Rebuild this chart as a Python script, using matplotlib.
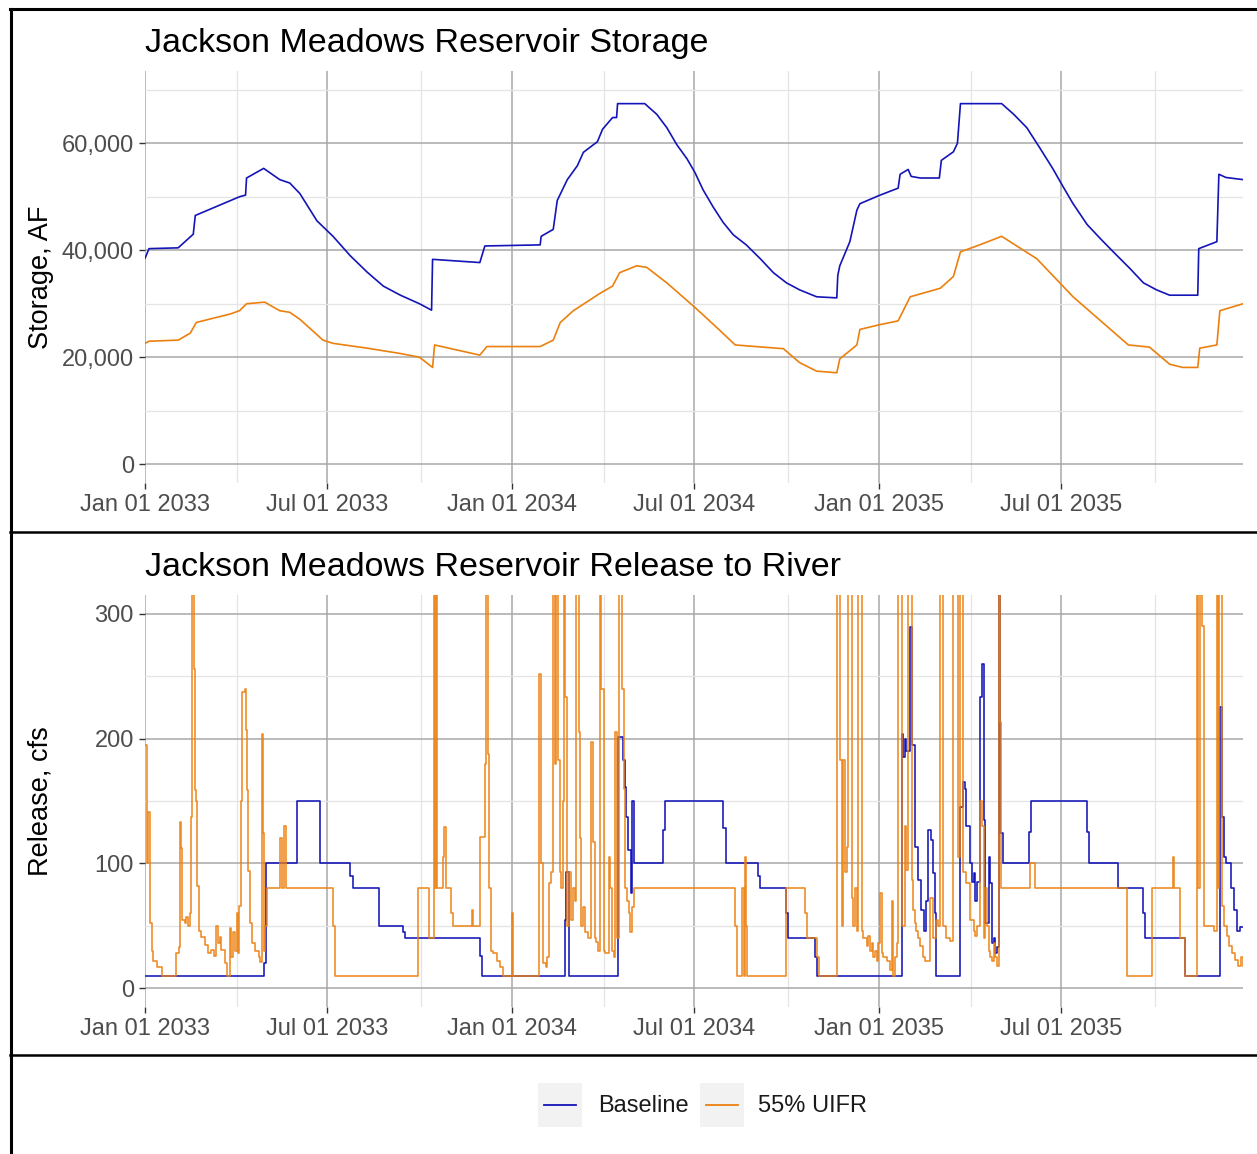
import numpy as np
import pandas as pd
import matplotlib
matplotlib.use("Agg")
import matplotlib.pyplot as plt
import matplotlib.dates as mdates
from matplotlib.ticker import FuncFormatter, MultipleLocator
from matplotlib.patches import Rectangle

plt.rcParams["font.family"] = ["Liberation Sans", "DejaVu Sans"]

# ---- data (day offsets from 2033-01-01) ----
start = pd.Timestamp("2033-01-01")
series_names = ["Baseline", "55% UIFR"]
series_colors = ["#1414B8", "#EC800F"]

stor_base_day = [0, 4, 33, 48, 50, 94, 100, 101, 118, 134, 144, 154, 171, 187, 204, 221, 237,
                 254, 273, 285, 286, 333, 338, 393, 394, 406, 410, 420, 430, 436, 450, 455,
                 465, 469, 470, 497, 509, 519, 529, 539, 547, 555, 565, 575, 585, 598, 612,
                 625, 638, 651, 668, 688, 689, 691, 701, 708, 711, 731, 749, 751, 759, 762,
                 771, 790, 792, 804, 808, 811, 852, 864, 877, 890, 903, 913, 923, 937, 950,
                 963, 980, 993, 1006, 1019, 1047, 1048, 1066, 1068, 1075, 1092]
stor_base_af = [38500, 40300, 40450, 43000, 46500, 50000, 50300, 53500, 55300, 53200, 52560,
                50600, 45500, 42600, 39000, 35900, 33300, 31600, 30000, 28800, 38300, 37700,
                40800, 41000, 42600, 43900, 49300, 53200, 55800, 58300, 60300, 62600, 64800,
                64800, 67400, 67400, 65400, 62900, 59700, 57100, 54500, 51300, 48100, 45200,
                42900, 41000, 38400, 35800, 33900, 32600, 31300, 31100, 35300, 37100, 41600,
                47500, 48700, 50300, 51600, 54200, 55100, 53800, 53500, 53500, 56800, 58400,
                60000, 67400, 67400, 65400, 62900, 59100, 55200, 51900, 48700, 44800, 42200,
                39700, 36500, 33900, 32600, 31600, 31600, 40300, 41600, 54200, 53600, 53200]

stor_uifr_day = [0, 4, 33, 45, 51, 85, 94, 101, 119, 134, 144, 154, 167, 177, 187, 221, 254,
                 273, 286, 288, 333, 340, 393, 406, 413, 426, 453, 465, 472, 489, 499, 519,
                 547, 569, 587, 635, 651, 668, 688, 691, 708, 711, 731, 749, 761, 791, 804,
                 811, 830, 852, 887, 923, 978, 999, 1019, 1032, 1047, 1049, 1066, 1069, 1092]
stor_uifr_af = [22600, 23000, 23200, 24500, 26500, 28100, 28700, 30000, 30300, 28700, 28400,
                27100, 24900, 23200, 22600, 21700, 20700, 20000, 18100, 22300, 20400, 22000,
                22000, 23200, 26500, 28700, 32000, 33300, 35800, 37100, 36800, 33900, 29300,
                25500, 22300, 21600, 19000, 17400, 17100, 19700, 22300, 25200, 26100, 26800,
                31300, 32900, 35100, 39700, 41000, 42600, 38400, 31300, 22300, 21900, 18700,
                18100, 18100, 21700, 22300, 28700, 30000]

rel_base_day = [0, 118, 120, 151, 174, 204, 207, 233, 257, 259, 333, 335, 418, 419, 422, 470,
                475, 477, 478, 480, 483, 484, 486, 515, 517, 575, 578, 610, 612, 637, 639, 666,
                668, 751, 753, 754, 756, 757, 761, 763, 766, 769, 772, 775, 777, 779, 782, 784,
                786, 787, 811, 814, 816, 817, 820, 822, 824, 825, 827, 830, 832, 834, 835, 839,
                840, 842, 844, 845, 847, 849, 850, 853, 879, 881, 937, 939, 968, 993, 995, 1034,
                1069, 1071, 1073, 1075, 1078, 1080, 1083, 1086, 1089, 1092]
rel_base_cfs = [10, 20, 100, 150, 100, 90, 80, 50, 45, 40, 26, 10, 55, 93, 10, 201,
                183, 161, 137, 111, 76, 150, 100, 127, 150, 128, 100, 90, 80, 60, 40, 25,
                10, 10, 204, 185, 200, 190, 289, 195, 113, 87, 63, 46, 70, 127, 119, 92,
                60, 10, 145, 165, 160, 130, 100, 85, 92, 70, 85, 233, 260, 135, 52, 105,
                84, 36, 40, 28, 33, 450, 124, 100, 125, 150, 125, 100, 80, 60, 40, 10,
                225, 137, 105, 100, 100, 80, 63, 46, 49, 49]

rel_uifr_day = [0, 2, 3, 5, 7, 8, 12, 17, 30, 31, 34, 35, 36, 37, 40, 41, 43, 45, 46, 47, 49,
                50, 51, 52, 54, 56, 60, 63, 66, 69, 71, 73, 75, 76, 80, 82, 85, 86, 88, 90, 91,
                92, 93, 95, 96, 99, 100, 101, 102, 104, 106, 109, 113, 114, 116, 117, 118, 119,
                121, 134, 136, 138, 140, 187, 189, 272, 282, 287, 288, 289, 290, 296, 297, 299,
                304, 306, 325, 326, 333, 338, 339, 341, 342, 344, 346, 350, 353, 356, 365, 366,
                392, 394, 396, 399, 400, 402, 404, 406, 408, 409, 411, 413, 414, 416, 417, 418,
                420, 422, 424, 426, 428, 429, 431, 432, 433, 434, 436, 438, 441, 444, 446, 448,
                449, 451, 453, 454, 456, 457, 461, 462, 464, 466, 467, 469, 471, 473, 474, 476,
                477, 479, 481, 482, 484, 486, 587, 589, 594, 596, 597, 598, 599, 637, 656, 658,
                668, 670, 688, 691, 693, 694, 696, 698, 699, 702, 703, 704, 706, 708, 709, 712,
                713, 714, 718, 719, 721, 723, 724, 726, 728, 729, 731, 733, 734, 738, 741, 743,
                744, 746, 748, 749, 752, 753, 756, 757, 759, 762, 763, 764, 766, 767, 769, 771,
                774, 776, 781, 784, 787, 789, 791, 793, 794, 797, 801, 804, 808, 809, 811, 813,
                814, 817, 820, 824, 825, 827, 830, 832, 834, 835, 837, 839, 840, 842, 844, 845,
                847, 849, 850, 851, 880, 885, 977, 1001, 1022, 1023, 1029, 1034, 1046, 1047,
                1049, 1051, 1053, 1063, 1066, 1067, 1068, 1070, 1071, 1073, 1076, 1078, 1081,
                1084, 1087, 1090, 1092]
rel_uifr_cfs = [195, 100, 141, 52, 30, 22, 17, 10, 10, 28, 33, 133, 112, 55, 52, 57, 50, 60,
                137, 450, 256, 159, 150, 82, 46, 41, 35, 28, 31, 26, 50, 36, 41, 31, 20, 10, 48,
                25, 45, 30, 60, 28, 66, 150, 237, 240, 207, 159, 94, 52, 36, 30, 25, 21, 204,
                124, 30, 50, 80, 120, 80, 130, 80, 50, 10, 80, 40, 450, 80, 450, 80, 105, 129,
                80, 60, 50, 63, 50, 121, 180, 450, 188, 80, 30, 28, 22, 17, 10, 60, 10,
                252, 100, 20, 17, 25, 84, 93, 450, 180, 450, 183, 93, 80, 150, 450, 233,
                50, 93, 55, 80, 70, 450, 450, 205, 120, 50, 65, 45, 40, 197, 117, 40,
                37, 30, 450, 240, 30, 28, 105, 80, 30, 25, 205, 40, 450, 450, 240, 160,
                80, 70, 60, 45, 65, 80, 50, 10, 80, 10, 105, 50, 10, 80, 60, 40,
                25, 10, 450, 183, 50, 183, 93, 113, 450, 450, 72, 50, 80, 46, 450, 450,
                46, 40, 34, 42, 30, 36, 25, 30, 22, 36, 76, 28, 25, 22, 15, 70,
                10, 25, 36, 450, 450, 50, 130, 95, 450, 450, 87, 63, 52, 46, 40, 34,
                25, 22, 72, 40, 55, 50, 450, 450, 50, 40, 38, 450, 450, 105, 450, 450,
                93, 84, 55, 46, 42, 50, 150, 130, 40, 80, 50, 30, 25, 22, 36, 25,
                18, 450, 213, 80, 100, 80, 10, 80, 105, 80, 40, 10, 450, 80,
                450, 290, 50, 46, 450, 80, 450, 450, 66, 50, 42, 34, 28,
                23, 18, 25, 18]


def to_dates(days):
    return start + pd.to_timedelta(days, unit="D")


# ---- figure ----
W, H = 1257, 1154
fig = plt.figure(figsize=(W / 100, H / 100), dpi=100)


def px_axes(x0, y0, x1, y1):
    return fig.add_axes([x0 / W, 1 - y1 / H, (x1 - x0) / W, (y1 - y0) / H])


ax1 = px_axes(145, 71, 1243, 483)
ax2 = px_axes(145, 595, 1243, 1007)

tick_col = "#4D4D4D"
for ax in (ax1, ax2):
    for sp in ax.spines.values():
        sp.set_visible(False)
    ax.set_xlim(start, start + pd.Timedelta(days=1092))
    ax.xaxis.set_major_locator(mdates.MonthLocator(bymonth=[1, 7]))
    ax.xaxis.set_minor_locator(mdates.MonthLocator(bymonth=[4, 10], bymonthday=2))
    ax.xaxis.set_major_formatter(mdates.DateFormatter("%b %d %Y"))
    ax.grid(which="major", color="#A8A8A8", linewidth=1.1)
    ax.grid(which="minor", color="#E4E4E4", linewidth=0.9)
    ax.set_axisbelow(True)
    ax.tick_params(which="major", length=4, width=1.0, color="#333333",
                   labelsize=17, labelcolor=tick_col, pad=4)
    ax.tick_params(which="minor", length=0)

# storage panel
ax1.plot(to_dates(stor_base_day), stor_base_af, color=series_colors[0], lw=1.2)
ax1.plot(to_dates(stor_uifr_day), stor_uifr_af, color=series_colors[1], lw=1.2)
ax1.set_ylim(-3500, 73500)
ax1.yaxis.set_major_locator(MultipleLocator(20000))
ax1.yaxis.set_minor_locator(MultipleLocator(10000))
ax1.yaxis.set_major_formatter(FuncFormatter(lambda v, p: f"{v:,.0f}"))
ax1.set_ylabel("Storage, AF", fontsize=19.5, color="black")
ax1.yaxis.set_label_coords(-0.083, 0.5)
ax1.set_title("Jackson Meadows Reservoir Storage", loc="left", fontsize=24.5, pad=14)

# release panel
ax2.plot(to_dates(rel_base_day), rel_base_cfs, color=series_colors[0], lw=1.15,
         drawstyle="steps-post")
ax2.plot(to_dates(rel_uifr_day), rel_uifr_cfs, color=series_colors[1], lw=1.15,
         drawstyle="steps-post", alpha=0.92)
ax2.set_ylim(-15, 315)
ax2.yaxis.set_major_locator(MultipleLocator(100))
ax2.yaxis.set_minor_locator(MultipleLocator(50))
ax2.set_ylabel("Release, cfs", fontsize=19.5, color="black")
ax2.yaxis.set_label_coords(-0.083, 0.5)
ax2.set_title("Jackson Meadows Reservoir Release to River", loc="left", fontsize=24.5, pad=14)

# overlay for frames and legend
ov = fig.add_axes([0, 0, 1, 1], zorder=-1)
ov.set_xlim(0, W)
ov.set_ylim(H, 0)
ov.axis("off")
ov.plot([10, W], [9, 9], color="black", lw=2.2)
ov.plot([11, 11], [9, H], color="black", lw=2.2)
ov.plot([10, W], [532, 532], color="black", lw=1.8)
ov.plot([10, W], [1055, 1055], color="black", lw=1.8)

key_x = [538, 700]
text_x = [598, 758]
for name, col, kx, tx in zip(series_names, series_colors, key_x, text_x):
    ov.add_patch(Rectangle((kx, 1083), 44, 44, color="#F2F2F2", lw=0))
    ov.plot([kx + 6, kx + 38], [1105, 1105], color=col, lw=1.3)
    ov.text(tx, 1106, name, fontsize=17, color="#1A1A1A", va="center", ha="left")

fig.savefig("out.png", dpi=100)
